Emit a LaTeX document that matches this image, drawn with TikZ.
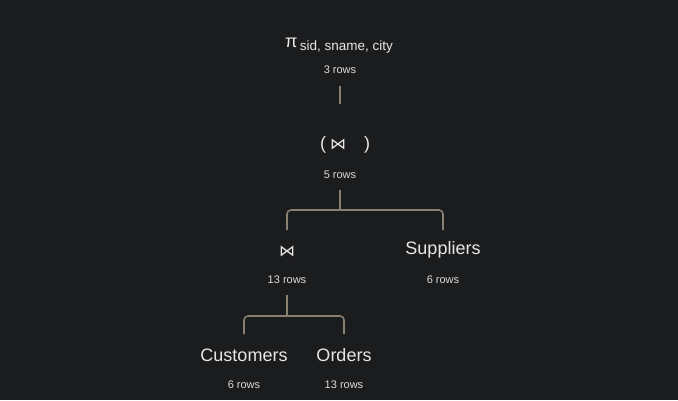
\documentclass[tikz,border=0pt]{standalone}
\usepackage{fontspec}
\setmainfont{Liberation Sans}
\newfontfamily\symfont{DejaVu Sans}
\definecolor{bg}{HTML}{1B1C1E}
\definecolor{fg}{HTML}{E6E6E6}
\definecolor{fgs}{HTML}{DADADA}
\definecolor{conncol}{HTML}{8A8072}
\tikzset{
  big/.style={inner sep=0pt, text=fg, font=\fontsize{18}{20}\selectfont},
  rowlbl/.style={inner sep=0pt, text=fgs, font=\fontsize{11}{13}\selectfont},
  joinsym/.style={inner sep=0pt, text=fg, font=\symfont\fontsize{16}{18}\selectfont},
  conn/.style={draw=conncol, line width=1.6pt},
}
\begin{document}
\begin{tikzpicture}[x=1pt,y=-1pt]
\fill[bg] (0,0) rectangle (678,400);
\useasboundingbox (0,0) rectangle (678,400);
% projection
\node[big, anchor=base] (proj) at (339,47) {π\raisebox{-3pt}{\fontsize{13.5}{15}\selectfont\,sid, sname, city}};
\node[rowlbl] (r3) at (340,70) {3 rows};
% top join
\node[big] (jtop) at (345,145) {(\hspace{4pt}{\symfont\fontsize{16}{18}\selectfont ⋈}\hspace{18pt})};
\node[rowlbl] (r5) at (340,175) {5 rows};
% join 13
\node[joinsym] (jmid) at (287,251) {⋈};
\node[rowlbl] (r13) at (287,280) {13 rows};
% suppliers
\node[big] (sup) at (443,250) {Suppliers};
\node[rowlbl] (r6s) at (443,280) {6 rows};
% leaves
\node[big] (cust) at (244,355) {Customers};
\node[rowlbl] (r6c) at (244,385) {6 rows};
\node[big] (ord) at (344,355) {Orders};
\node[rowlbl] (r13o) at (344,385) {13 rows};
% connectors
\draw[conn] ([yshift=-16pt]r3.center) -- ([yshift=41pt]jtop.center -| r3.center);
\draw[conn] ([yshift=-15pt]r5.center) -- ([yshift=-35pt]r5.center);
\draw[conn, rounded corners=4pt] ([yshift=21pt]jmid.center) |- ([yshift=40pt]sup.center) -- ([yshift=20pt]sup.center);
\draw[conn] ([yshift=-15pt]r13.center) -- ([yshift=-36pt]r13.center);
\draw[conn, rounded corners=4pt] ([yshift=21pt]cust.center) |- ([yshift=39pt]ord.center) -- ([yshift=21pt]ord.center);
\end{tikzpicture}
\end{document}
